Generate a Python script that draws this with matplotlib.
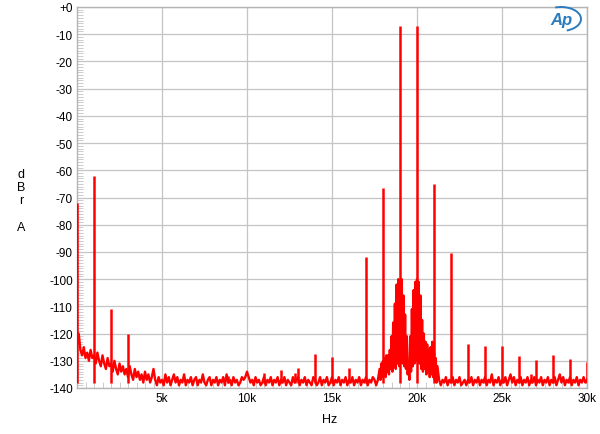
import matplotlib
matplotlib.use('Agg')
import matplotlib.pyplot as plt
import numpy as np
from matplotlib.patches import Arc

plt.rcParams['font.family'] = ['Liberation Sans', 'DejaVu Sans']

# noise floor, sampled every 100 Hz from 0 to 30 kHz (dB)
floor_hz = np.arange(0, 30001, 100)
floor_db = [-124, -120, -126, -128, -125, -129, -127, -130, -126, -129,
            -128, -131, -127, -130, -132, -128, -131, -133, -129, -132,
            -131, -134, -130, -133, -135, -131, -134, -132, -135, -133,
            -136, -132, -135, -137, -133, -136, -134, -137, -135, -138,
            -134, -137, -135, -138, -136, -133, -137, -139, -136, -138,
            -137, -139, -135, -138, -136, -139, -137, -135, -138, -136,
            -139, -137, -138, -135, -139, -137, -138, -136, -139, -137,
            -136, -139, -137, -138, -135, -138, -139, -137, -136, -139,
            -137, -138, -136, -139, -137, -138, -136, -139, -135, -138,
            -137, -139, -136, -138, -137, -139, -138, -136, -137, -136,
            -134, -136, -138, -137, -139, -136, -138, -137, -139, -138,
            -136, -139, -137, -138, -136, -139, -137, -138, -136, -139,
            -137, -138, -136, -139, -137, -138, -139, -136, -138, -137,
            -136, -139, -137, -138, -136, -139, -137, -138, -139, -136,
            -137, -139, -138, -136, -139, -137, -138, -136, -139, -138,
            -136, -139, -137, -138, -136, -139, -137, -138, -136, -139,
            -137, -138, -136, -139, -137, -138, -136, -139, -137, -138,
            -136, -139, -137, -138, -136, -137, -139, -137, -136, -138,
            -135, -134, -133, -134, -132, -133, -131, -132, -130, -131,
            -131, -132, -133, -134, -135, -135, -134, -133, -132, -131,
            -131, -132, -133, -134, -133, -134, -135, -134, -135, -136,
            -136, -137, -138, -137, -139, -137, -138, -136, -139, -137,
            -138, -136, -139, -137, -138, -136, -139, -138, -137, -139,
            -137, -138, -136, -139, -137, -138, -136, -139, -137, -138,
            -136, -139, -137, -138, -135, -139, -137, -138, -136, -139,
            -137, -138, -136, -139, -137, -135, -138, -136, -139, -137,
            -138, -136, -139, -137, -138, -136, -139, -137, -138, -136,
            -139, -137, -138, -136, -139, -137, -138, -136, -139, -137,
            -138, -136, -139, -137, -135, -138, -136, -139, -137, -138,
            -136, -139, -137, -138, -136, -139, -137, -138, -136, -138,
            -137]

# modulation skirt around the two tones, every 50 Hz (peak / trough alternating)
skirt_hz = np.arange(17800, 21201, 50)
skirt_db = [-133, -137, -131, -136, -130, -135, -129, -136, -128, -134,
            -128, -135, -126, -133, -121, -134, -116, -132, -109, -133,
            -102, -131, -100, -132, -101, -130, -100, -131, -106, -132,
            -113, -133, -121, -135, -131, -137, -121, -134, -111, -132,
            -104, -131, -101, -130, -100, -130, -101, -131, -106, -133,
            -115, -134, -120, -133, -123, -135, -124, -134, -126, -136,
            -125, -135, -123, -136, -127, -137, -129, -138, -132]

# discrete spectral lines
spike_hz = [20, 1000, 2000, 3000, 8900, 11000, 12000, 12800, 13000, 14000,
            15000, 16000, 17000, 18000, 19000, 20000, 21000, 22000, 23000,
            24000, 25000, 26000, 26700, 27000, 28000, 29000, 30000]
spike_db = [-72, -62, -111, -120, -135.5, -134.5, -133.5, -134.5, -132.5, -127.5,
            -128.5, -132.5, -92, -66.5, -7, -7, -65, -90.5, -124,
            -124.5, -124.5, -128.3, -135, -129.7, -128, -129.3, -130.3]

y_ticks = list(range(0, -141, -10))
y_labels = ['+0'] + [str(v) for v in y_ticks[1:]]
x_ticks = [5000, 10000, 15000, 20000, 25000, 30000]
x_labels = ['5k', '10k', '15k', '20k', '25k', '30k']

red = '#ff0000'
grey = '#c4c4c4'

fig = plt.figure(figsize=(6, 4.35), dpi=100)
ax = fig.add_axes([77 / 600, 46 / 435, 510 / 600, 381 / 435])

# merge floor and skirt into one trace
floor_hz = np.asarray(floor_hz)
floor_db = np.asarray(floor_db, dtype=float)
keep = (floor_hz < skirt_hz[0]) | (floor_hz > skirt_hz[-1])
trace_hz = np.concatenate([floor_hz[keep], skirt_hz])
trace_db = np.concatenate([floor_db[keep], np.asarray(skirt_db, dtype=float)])
order = np.argsort(trace_hz, kind='stable')
ax.plot(trace_hz[order], trace_db[order], color=red, lw=1.7, zorder=3)
ax.vlines(spike_hz, -138, spike_db, color=red, lw=1.8, zorder=3)

ax.set_xlim(0, 30000)
ax.set_ylim(-140, 0)
ax.set_xticks(x_ticks)
ax.set_xticklabels(x_labels)
ax.set_yticks(y_ticks)
ax.set_yticklabels(y_labels)
ax.set_xticks(np.arange(0, 30001, 500), minor=True)
ax.set_yticks(np.arange(-140, 1, 1), minor=True)
ax.grid(True, which='major', color=grey, lw=0.9, zorder=0)
ax.tick_params(which='both', direction='in', colors=grey, labelcolor='black',
               labelsize=8.5)
ax.tick_params(which='major', length=0, pad=3)
ax.tick_params(which='minor', length=4, width=0.6)
for s in ax.spines.values():
    s.set_color('#b4b4b4')
    s.set_linewidth(1)

fig.text(330 / 600, 1 - 420 / 435, 'Hz', ha='center', va='center', fontsize=9)
for ch, yy in [('d', 175), ('B', 188), ('r', 201), ('A', 228)]:
    fig.text(21 / 600, 1 - yy / 435, ch, ha='center', va='center', fontsize=9)

# Audio Precision logo
blue = '#2b7bbf'
fig.text(561 / 600, 1 - 20 / 435, 'Ap', ha='center', va='center', fontsize=12,
         style='italic', fontweight='bold', color=blue)
fig.add_artist(Arc((561 / 600, 1 - 20 / 435), 40 / 600, 24 / 435, theta1=-70,
                   theta2=110, color=blue, lw=1.4, transform=fig.transFigure))

fig.savefig('out.png', dpi=100)
